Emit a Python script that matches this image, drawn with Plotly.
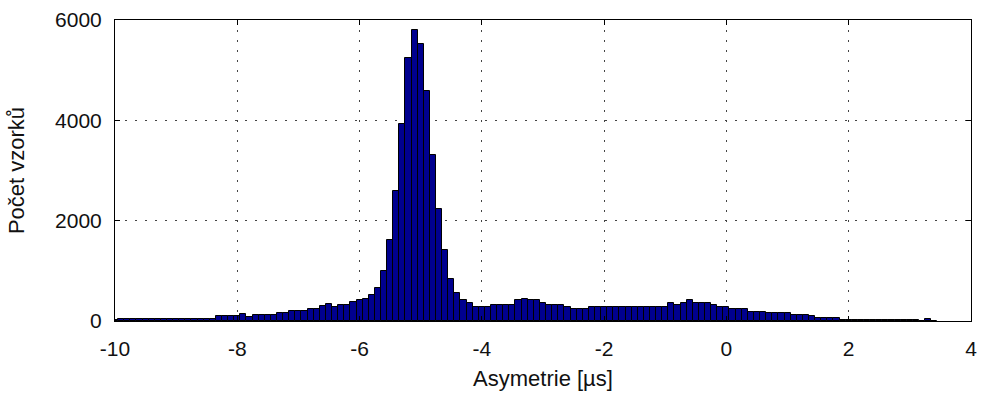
import plotly.graph_objects as go

# Bin centres (width 0.1) from -10.0 to 3.4
bin_start = -10.0
bin_width = 0.1
counts = [
    20,                                                       # -10.0
    42, 40, 40, 38, 40, 40, 42, 40, 40, 40, 42, 40, 40, 42, 40, 42,  # -9.9 .. -8.4
    90, 90, 92, 95,                                           # -8.3 .. -8.0
    135, 80, 120, 125, 125, 128,                              # -7.9 .. -7.4
    165, 165, 200, 200, 205,                                  # -7.3 .. -6.9
    240, 240, 290, 330, 280, 310, 320, 370, 410,              # -6.8 .. -6.0
    440, 528, 650, 1003, 1610, 2585, 3930, 5240, 5805, 5520,  # -5.9 .. -5.0
    4577, 3310, 2230, 1412, 845, 558, 410, 365, 275, 270,     # -4.9 .. -4.0
    270, 316, 316, 316, 316, 409, 448, 409, 409, 363,         # -3.9 .. -3.0
    316, 316, 316, 277, 231, 231, 231, 277, 277, 277,         # -2.9 .. -2.0
    277, 277, 277, 277, 277, 277, 277, 277, 277, 277,         # -1.9 .. -1.0
    363, 316, 363, 409, 363, 363, 363, 320, 277, 277,         # -0.9 .. 0.0
    237, 237, 237, 185, 185, 185, 150, 150, 150, 150,         # 0.1 .. 1.0
    112, 112, 112, 100, 66, 66, 66, 66, 25, 25,               # 1.1 .. 2.0
    25, 25, 25, 25, 25, 25, 25, 25, 25, 25,                   # 2.1 .. 3.0
    25, 10, 45, 0,                                            # 3.1 .. 3.4
]
centers = [round(bin_start + i * bin_width, 2) for i in range(len(counts))]

x_ticks = [-10, -8, -6, -4, -2, 0, 2, 4]
y_ticks = [0, 2000, 4000, 6000]
x_title = "Asymetrie [\u00b5s]"
y_title = "Po\u010det vzork\u016f"

FONT = "Liberation Sans, Arial, Helvetica, sans-serif"
TICK_SIZE = 21
TITLE_SIZE = 22

fig = go.Figure(
    go.Bar(
        x=centers,
        y=counts,
        width=bin_width,
        marker=dict(color="#00008F", line=dict(color="black", width=1)),
        hoverinfo="x+y",
    )
)

axis_common = dict(
    showline=True,
    linecolor="black",
    linewidth=1,
    mirror="ticks",
    ticks="inside",
    ticklen=5,
    tickcolor="black",
    showgrid=True,
    gridcolor="#444444",
    gridwidth=1,
    griddash="2px,8px",
    zeroline=False,
    tickfont=dict(family=FONT, size=TICK_SIZE, color="#111111"),
)

fig.update_layout(
    width=985,
    height=398,
    margin=dict(l=115, r=8, t=18, b=77),
    paper_bgcolor="white",
    plot_bgcolor="white",
    bargap=0,
    showlegend=False,
    font=dict(family=FONT, size=TICK_SIZE, color="#111111"),
    xaxis=dict(
        range=[-10, 4],
        tickvals=x_ticks,
        ticktext=[str(v) for v in x_ticks],
        ticklabelstandoff=9,
        title=dict(text=x_title, font=dict(family=FONT, size=TITLE_SIZE), standoff=11),
        **axis_common,
    ),
    yaxis=dict(
        range=[0, 6000],
        tickvals=y_ticks,
        ticktext=[str(v) for v in y_ticks],
        ticklabelstandoff=8,
        title=dict(text=y_title, font=dict(family=FONT, size=TITLE_SIZE), standoff=24),
        **axis_common,
    ),
)

fig.write_html("out.html")
